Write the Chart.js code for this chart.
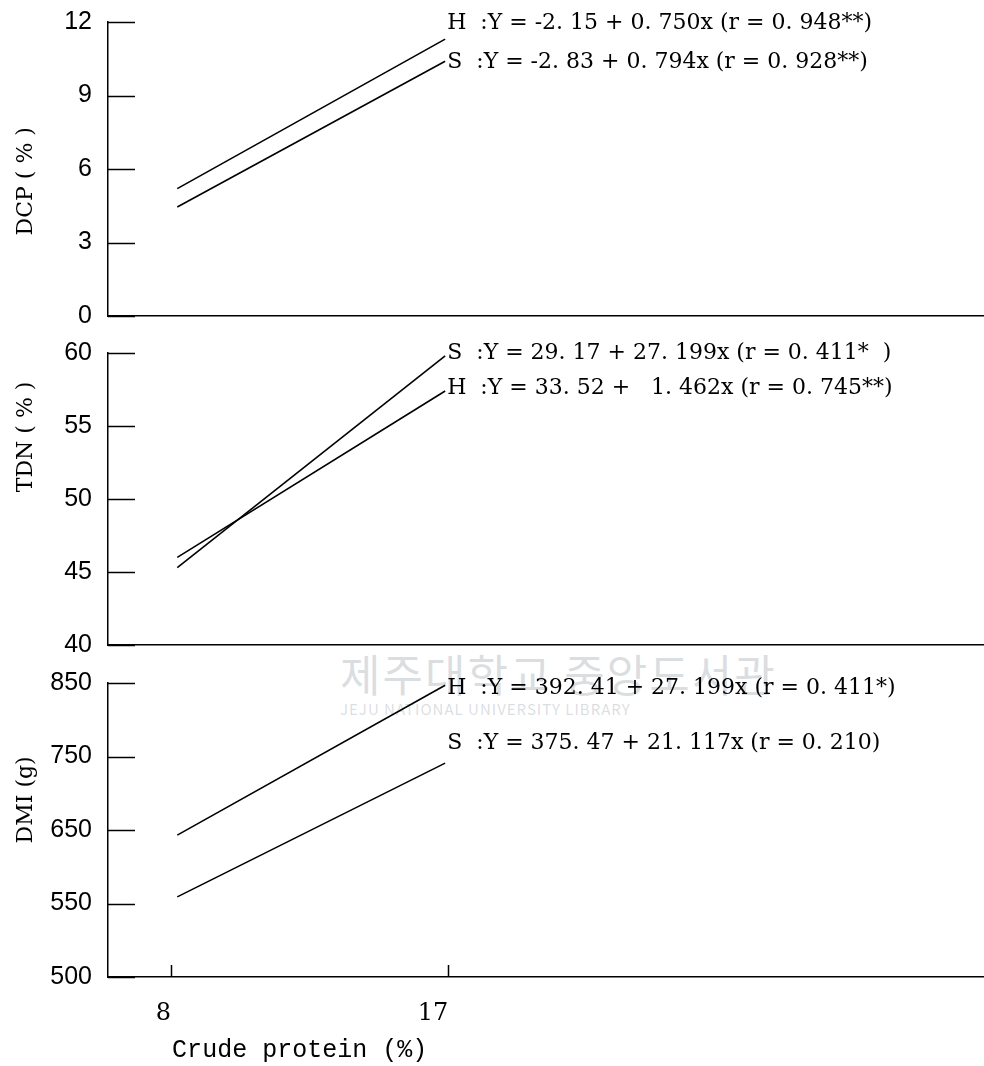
<!DOCTYPE html>
<html>
<head>
<meta charset="utf-8">
<script src="https://cdn.jsdelivr.net/npm/chart.js@4"></script>
<style>
  body { margin: 0; background: #fff; }
  #wrap { position: relative; width: 984px; height: 1066px; overflow: hidden; }
  canvas { position: absolute; left: 0; }
  #mark { position: absolute; left: 340px; top: 648px; color: rgba(150,160,170,0.35);
          font-family: "Noto Sans CJK KR", sans-serif; pointer-events: none; }
  #mark .big { font-size: 44px; letter-spacing: 2px; line-height: 50px; }
  #mark .small { font-size: 15px; letter-spacing: 1px; }
</style>
</head>
<body>
<div id="wrap">
  <div id="mark"><div class="big">제주대학교 중앙도서관</div><div class="small">JEJU NATIONAL UNIVERSITY LIBRARY</div></div>
  <canvas id="c1" style="top:0px" width="984" height="334"></canvas>
  <canvas id="c2" style="top:334px" width="984" height="330"></canvas>
  <canvas id="c3" style="top:664px" width="984" height="402"></canvas>
</div>
<script>
// shared x axis (crude protein %)
const xRange = [5.95, 34.4];
const xTicks = [8, 17];
const lineX = [8.2, 16.9];

// DCP panel
const dcpH = [5.2, 11.3];
const dcpS = [4.45, 10.4];
const dcpTicks = [0, 3, 6, 9, 12];
const dcpLabels = ['H  :Y = -2. 15 + 0. 750x (r = 0. 948**)', 'S  :Y = -2. 83 + 0. 794x (r = 0. 928**)'];
const dcpLabelY = [11.95, 10.35];

// TDN panel
const tdnS = [45.3, 59.8];
const tdnH = [46.0, 57.4];
const tdnTicks = [40, 45, 50, 55, 60];
const tdnLabels = ['S  :Y = 29. 17 + 27. 199x (r = 0. 411*  )', 'H  :Y = 33. 52 +   1. 462x (r = 0. 745**)'];
const tdnLabelY = [60.0, 57.6];

// DMI panel (axis is broken: lowest tick reads 500)
const dmiH = [643, 847];
const dmiS = [559, 741];
const dmiTicks = [450, 550, 650, 750, 850];
const dmiTickText = ['500', '550', '650', '750', '850'];
const dmiLabels = ['H  :Y = 392. 41 + 27. 199x (r = 0. 411*)', 'S  :Y = 375. 47 + 21. 117x (r = 0. 210)'];
const dmiLabelY = [843, 768];

const axisFont = { family: 'Liberation Sans', size: 25 };
const eqFont = '22px "DejaVu Serif"';
const titleFont = '22px "DejaVu Serif"';

const deco = {
  id: 'deco',
  afterDraw(chart, args, o) {
    const { ctx, chartArea } = chart;
    const xs = chart.scales.x, ys = chart.scales.y;
    ctx.save();
    ctx.strokeStyle = '#000';
    ctx.lineWidth = 1.5;
    // inward y ticks
    ys.ticks.forEach(t => {
      const py = Math.round(ys.getPixelForValue(t.value)) + 0.5;
      ctx.beginPath();
      ctx.moveTo(chartArea.left, py);
      ctx.lineTo(chartArea.left + 27, py);
      ctx.stroke();
    });
    if (o.xticks) {
      xTicks.forEach(v => {
        const px = Math.round(xs.getPixelForValue(v)) + 0.5;
        ctx.beginPath();
        ctx.moveTo(px, chartArea.bottom);
        ctx.lineTo(px, chartArea.bottom - 12);
        ctx.stroke();
      });
    }
    ctx.fillStyle = '#000';
    // y title
    ctx.font = titleFont;
    ctx.textAlign = 'center';
    ctx.textBaseline = 'middle';
    ctx.save();
    ctx.translate(26, ys.getPixelForValue(o.titleAt));
    ctx.rotate(-Math.PI / 2);
    ctx.fillText(o.title, 0, 0);
    ctx.restore();
    // regression equations
    ctx.font = eqFont;
    ctx.textAlign = 'left';
    const lx = xs.getPixelForValue(lineX[1]) + 2;
    o.labels.forEach((s, i) => ctx.fillText(s, lx, ys.getPixelForValue(o.labelY[i])));
    // x title
    if (o.xtitle) {
      ctx.font = '25px "Liberation Mono"';
      ctx.textBaseline = 'middle';
      ctx.fillText(o.xtitle, xs.getPixelForValue(xTicks[0]) + 1, chartArea.bottom + 73);
    }
    ctx.restore();
  }
};

function pts(ys) { return lineX.map((x, i) => ({ x: x, y: ys[i] })); }

function makePanel(id, series, yMin, yMax, ticks, tickText, padTop, xHeight, deco_opts, showX) {
  new Chart(document.getElementById(id), {
    type: 'line',
    data: {
      datasets: series.map(s => ({
        data: pts(s),
        borderColor: '#000',
        borderWidth: 1.6,
        pointRadius: 0,
        fill: false
      }))
    },
    options: {
      responsive: false,
      animation: false,
      layout: { padding: { top: padTop, right: 0, left: 0, bottom: 0 } },
      plugins: { legend: { display: false }, tooltip: { enabled: false }, deco: deco_opts },
      scales: {
        x: {
          type: 'linear', min: xRange[0], max: xRange[1],
          afterBuildTicks: s => { s.ticks = xTicks.map(v => ({ value: v })); },
          afterFit: s => { s.height = xHeight; s.paddingLeft = 0; s.paddingRight = 0; },
          grid: { drawOnChartArea: false, drawTicks: false },
          border: { color: '#000', width: 1.5 },
          ticks: {
            display: showX, padding: 22, align: 'end', color: '#000',
            font: { family: 'DejaVu Serif', size: 24 }
          }
        },
        y: {
          min: yMin, max: yMax,
          afterBuildTicks: s => { s.ticks = ticks.map(v => ({ value: v })); },
          afterFit: s => { s.width = 108; s.paddingTop = 0; s.paddingBottom = 0; },
          grid: { drawOnChartArea: false, drawTicks: false },
          border: { color: '#000', width: 1.5 },
          ticks: {
            padding: 16, color: '#000', font: axisFont,
            callback: (v) => tickText[ticks.indexOf(v)]
          }
        }
      }
    },
    plugins: [deco]
  });
}

makePanel('c1', [dcpH, dcpS], 0, 12, dcpTicks, dcpTicks.map(String), 22, 18,
  { title: 'DCP ( % )', titleAt: 5.5, labels: dcpLabels, labelY: dcpLabelY }, false);
makePanel('c2', [tdnS, tdnH], 40, 60, tdnTicks, tdnTicks.map(String), 19, 19,
  { title: 'TDN ( % )', titleAt: 54.25, labels: tdnLabels, labelY: tdnLabelY }, false);
makePanel('c3', [dmiH, dmiS], 450, 850, dmiTicks, dmiTickText, 19, 89,
  { title: 'DMI (g)', titleAt: 691, labels: dmiLabels, labelY: dmiLabelY, xticks: true, xtitle: 'Crude protein (%)' }, true);
</script>
</body>
</html>
